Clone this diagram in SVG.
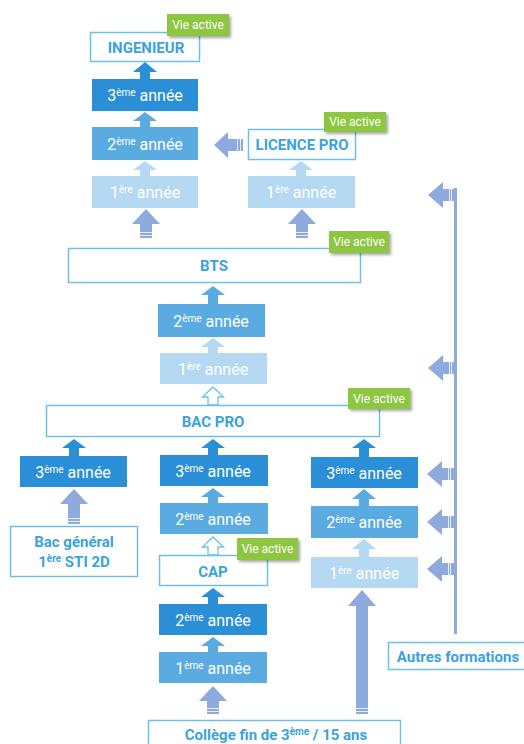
<svg xmlns="http://www.w3.org/2000/svg" width="524" height="744" viewBox="0 0 524 744">
<defs>
<filter id="sh" x="-20%" y="-20%" width="150%" height="160%"><feDropShadow dx="2" dy="2" stdDeviation="1.5" flood-color="#000" flood-opacity="0.35"/></filter>
</defs>
<style>
.yr{fill:#fff;font-family:Roboto,"Liberation Sans",sans-serif;font-size:16px;text-anchor:middle}
.sup{font-size:10px}
.lab{fill:#3aa3dc;font-family:Roboto,"Liberation Sans",sans-serif;font-size:15px;font-weight:700;text-anchor:middle}
.box{fill:#fff;stroke:#6cc0ea;stroke-width:1.5}
.d{fill:#2a8fd6}.m{fill:#5aabe2}.l{fill:#b5d9f2}
.p{fill:#8faadd}
.hol{fill:#fff;stroke:#6cc0ea;stroke-width:1.3}
.tag{fill:#8dc63f;filter:url(#sh)}
.tagt{fill:#fff;font-family:Roboto,"Liberation Sans",sans-serif;font-size:12px;text-anchor:middle}
.st{stroke:#fff;stroke-width:0.8}
</style>
<g id="connectors">
<path class="d" d="M145,62 L157,72 L150,72 L150,79 L140,79 L140,72 L133,72 Z"/>
<path class="m" d="M145,112 L157,121 L150,121 L150,127 L140,127 L140,121 L133,121 Z"/>
<path class="l" d="M145,161 L157,170 L150,170 L150,176 L140,176 L140,170 L133,170 Z"/>
<path class="p" d="M146,209 L160,224 L152,224 L152,238 L140,238 L140,224 L132,224 Z"/>
<path class="l" d="M301,161 L313,170 L306,170 L306,176 L296,176 L296,170 L289,170 Z"/>
<path class="p" d="M302,209 L316,224 L308,224 L308,238 L296,238 L296,224 L288,224 Z"/>
<path class="p" d="M214,145 L228,132 L228,139 L243,139 L243,151 L228,151 L228,158 Z"/>
<path class="m" d="M213,286 L225,295 L218,295 L218,304 L208,304 L208,295 L201,295 Z"/>
<path class="l" d="M213,338 L225,347 L218,347 L218,353 L208,353 L208,347 L201,347 Z"/>
<path class="hol" d="M213,387 L223.5,397 L218,397 L218,405 L208,405 L208,397 L202.5,397 Z"/>
<path class="d" d="M74,439 L86,448 L79,448 L79,456 L69,456 L69,448 L62,448 Z"/>
<path class="d" d="M213,439 L225,448 L218,448 L218,455 L208,455 L208,448 L201,448 Z"/>
<path class="d" d="M364,439 L376,448 L369,448 L369,457 L359,457 L359,448 L352,448 Z"/>
<path class="p" d="M74,489 L88,504 L80,504 L80,524 L68,524 L68,504 L60,504 Z"/>
<path class="m" d="M213,488 L225,497 L218,497 L218,503 L208,503 L208,497 L201,497 Z"/>
<path class="hol" d="M213,537 L223.5,547 L218,547 L218,555 L208,555 L208,547 L202.5,547 Z"/>
<path class="d" d="M213,588 L225,597 L218,597 L218,604 L208,604 L208,597 L201,597 Z"/>
<path class="m" d="M213,637 L225,646 L218,646 L218,652 L208,652 L208,646 L201,646 Z"/>
<path class="p" d="M213,686 L227,701 L219,701 L219,714 L207,714 L207,701 L199,701 Z"/>
<path class="m" d="M364,489 L376,499 L369,499 L369,506 L359,506 L359,499 L352,499 Z"/>
<path class="l" d="M364,539 L376,549 L369,549 L369,557 L359,557 L359,549 L352,549 Z"/>
<path class="p" d="M362,590 L376,606 L368,606 L368,714 L356,714 L356,606 L348,606 Z"/>
<rect class="p" x="454" y="188" width="3" height="446"/>
<path class="p" d="M428,195 L443,182 L443,189 L455,189 L455,201 L443,201 L443,208 Z"/>
<path class="p" d="M428,368 L443,355 L443,362 L455,362 L455,374 L443,374 L443,381 Z"/>
<path class="p" d="M427,474 L442,461 L442,468 L454,468 L454,480 L442,480 L442,487 Z"/>
<path class="p" d="M427,522 L442,509 L442,516 L454,516 L454,528 L442,528 L442,535 Z"/>
<path class="p" d="M427,569 L442,556 L442,563 L454,563 L454,575 L442,575 L442,582 Z"/>
<g class="st">
<path d="M139,232.5 H153 M139,235.5 H153"/>
<path d="M295,232.5 H309 M295,235.5 H309"/>
<path d="M67,518.5 H81 M67,521.5 H81"/>
<path d="M206,708.5 H220 M206,711.5 H220"/>
<path d="M355,708.5 H369 M355,711.5 H369"/>
<path d="M237.5,138 V152 M240.5,138 V152"/>
<path d="M449.5,188 V202 M451.5,188 V202"/>
<path d="M449.5,361 V375 M451.5,361 V375"/>
<path d="M448.5,467 V481 M450.5,467 V481"/>
<path d="M448.5,515 V529 M450.5,515 V529"/>
<path d="M448.5,562 V576 M450.5,562 V576"/>
</g>
</g>
<g id="ingenieur"><rect class="box" x="90.5" y="32.5" width="109" height="29"/><text class="lab" x="146" y="52.5">INGENIEUR</text></g>
<g id="tag-ing"><rect class="tag" x="167" y="14" width="62" height="22"/><text class="tagt" x="198" y="29">Vie active</text></g>
<g id="ing3"><rect class="d" x="92" y="79" width="106" height="32"/><text class="yr" x="145" y="101">3<tspan class="sup" dy="-5">ème</tspan><tspan dy="5"> année</tspan></text></g>
<g id="ing2"><rect class="m" x="92" y="127" width="106" height="33"/><text class="yr" x="145" y="149.5">2<tspan class="sup" dy="-5">ème</tspan><tspan dy="5"> année</tspan></text></g>
<g id="ing1"><rect class="l" x="92" y="176" width="106" height="32"/><text class="yr" x="145" y="198">1<tspan class="sup" dy="-5">ère</tspan><tspan dy="5"> année</tspan></text></g>
<g id="licence"><rect class="box" x="248.5" y="129.5" width="107" height="30"/><text class="lab" x="302" y="150">LICENCE PRO</text></g>
<g id="tag-lp"><rect class="tag" x="324" y="112" width="62" height="20"/><text class="tagt" x="355" y="126">Vie active</text></g>
<g id="lp1"><rect class="l" x="248" y="176" width="107" height="32"/><text class="yr" x="301" y="198">1<tspan class="sup" dy="-5">ère</tspan><tspan dy="5"> année</tspan></text></g>
<g id="bts"><rect class="box" x="68.5" y="248.5" width="292" height="34"/><text class="lab" x="214" y="271">BTS</text></g>
<g id="tag-bts"><rect class="tag" x="329" y="231" width="60" height="22"/><text class="tagt" x="359" y="246">Vie active</text></g>
<g id="bts2"><rect class="m" x="158" y="304" width="107" height="33"/><text class="yr" x="211" y="326.5">2<tspan class="sup" dy="-5">ème</tspan><tspan dy="5"> année</tspan></text></g>
<g id="bts1"><rect class="l" x="160" y="353" width="107" height="31"/><text class="yr" x="213" y="374.5">1<tspan class="sup" dy="-5">ère</tspan><tspan dy="5"> année</tspan></text></g>
<g id="bacpro"><rect class="box" x="46.5" y="405.5" width="333" height="31"/><text class="lab" x="213" y="426.5">BAC PRO</text></g>
<g id="tag-bac"><rect class="tag" x="348" y="388" width="62" height="21"/><text class="tagt" x="379" y="402.5">Vie active</text></g>
<g id="l3"><rect class="d" x="20" y="456" width="107" height="31"/><text class="yr" x="73" y="477.5">3<tspan class="sup" dy="-5">ème</tspan><tspan dy="5"> année</tspan></text></g>
<g id="bacgen"><rect class="box" x="10.5" y="526.5" width="127" height="50"/><text class="lab" x="74" y="547">Bac général</text><text class="lab" x="74" y="567">1<tspan class="sup" dy="-5">ère</tspan><tspan dy="5"> STI 2D</tspan></text></g>
<g id="m3"><rect class="d" x="160" y="455" width="108" height="31"/><text class="yr" x="213" y="476.5">3<tspan class="sup" dy="-5">ème</tspan><tspan dy="5"> année</tspan></text></g>
<g id="m2"><rect class="m" x="160" y="503" width="108" height="31"/><text class="yr" x="213" y="524.5">2<tspan class="sup" dy="-5">ème</tspan><tspan dy="5"> année</tspan></text></g>
<g id="cap"><rect class="box" x="159.5" y="555.5" width="108" height="30"/><text class="lab" x="213" y="576.5">CAP</text></g>
<g id="tag-cap"><rect class="tag" x="237" y="538" width="61" height="22"/><text class="tagt" x="267.5" y="553">Vie active</text></g>
<g id="cap2"><rect class="d" x="159" y="604" width="108" height="31"/><text class="yr" x="213" y="625.5">2<tspan class="sup" dy="-5">ème</tspan><tspan dy="5"> année</tspan></text></g>
<g id="cap1"><rect class="m" x="159" y="652" width="108" height="31"/><text class="yr" x="213" y="673.5">1<tspan class="sup" dy="-5">ème</tspan><tspan dy="5"> année</tspan></text></g>
<g id="college"><rect class="box" x="148.5" y="720.5" width="252" height="30"/><text class="lab" x="276" y="740">Collège fin de 3<tspan class="sup" dy="-5">ème</tspan><tspan dy="5"> / 15 ans</tspan></text></g>
<g id="r3"><rect class="d" x="311" y="457" width="107" height="31"/><text class="yr" x="364" y="478.5">3<tspan class="sup" dy="-5">ème</tspan><tspan dy="5"> année</tspan></text></g>
<g id="r2"><rect class="m" x="311" y="506" width="107" height="32"/><text class="yr" x="364" y="528">2<tspan class="sup" dy="-5">ème</tspan><tspan dy="5"> année</tspan></text></g>
<g id="r1"><rect class="l" x="311" y="557" width="107" height="31"/><text class="yr" x="364" y="578.5">1<tspan class="sup" dy="-5">ère</tspan><tspan dy="5"> année</tspan></text></g>
<g id="autres"><rect class="box" x="388.5" y="642.5" width="140" height="27"/><text class="lab" x="458" y="661.5">Autres formations</text></g>
</svg>
